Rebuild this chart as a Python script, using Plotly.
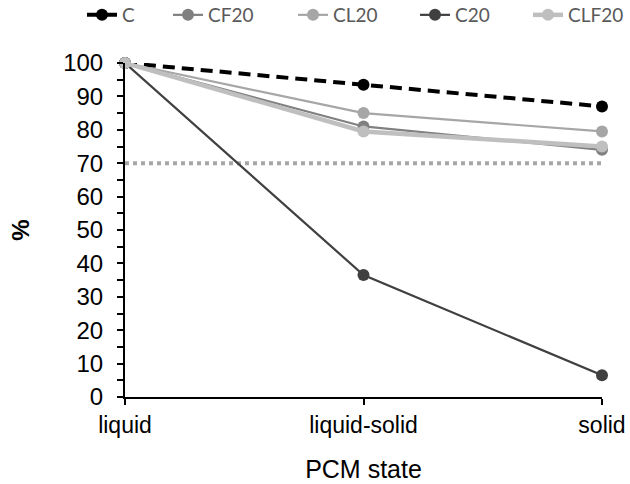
import plotly.graph_objects as go

states = ["liquid", "liquid-solid", "solid"]
series_names = ["C", "CF20", "CL20", "C20", "CLF20"]
C = [100, 93.5, 87]
CF20 = [100, 81, 74]
CL20 = [100, 85, 79.5]
C20 = [100, 36.5, 6.5]
CLF20 = [100, 79.5, 75]
threshold = 70

values = [C, CF20, CL20, C20, CLF20]
colors = ["#000000", "#808080", "#a6a6a6", "#404040", "#bfbfbf"]
widths = [4, 2.2, 2.2, 2.2, 4.5]
dashes = ["12px,7px", "solid", "solid", "solid", "solid"]

L, R, T, B = 125, 28, 63, 87
W, H = 630, 484
pw = W - L - R
ph = H - T - B
# legend left edges (px) for each item
legend_px = [82, 168, 293, 415, 528]
legend_ypx = 15

xpos = list(range(len(states)))

fig = go.Figure()
fig.add_trace(go.Scatter(x=[xpos[0], xpos[-1]], y=[threshold, threshold], mode="lines",
                         line=dict(color="#a6a6a6", width=4, dash="4px,4px"),
                         showlegend=False, hoverinfo="skip"))
layout_legends = {}
for i, (name, v, c, w, d) in enumerate(zip(series_names, values, colors, widths, dashes)):
    lg = "legend" if i == 0 else f"legend{i+1}"
    fig.add_trace(go.Scatter(x=xpos, y=v, name=name, mode="lines+markers",
                             line=dict(color=c, width=w, dash=d),
                             marker=dict(color=c, size=12), legend=lg, showlegend=True))
    layout_legends[lg] = dict(
        x=(legend_px[i] - L) / pw, xanchor="left",
        y=1 + (T - legend_ypx) / ph, yanchor="middle",
        orientation="h", bgcolor="rgba(0,0,0,0)",
        font=dict(size=19, color="#595959", family="Lato, Open Sans, sans-serif"),
    )

fig.update_layout(
    width=W, height=H,
    margin=dict(l=L, r=R, t=T, b=B, autoexpand=False),
    plot_bgcolor="white", paper_bgcolor="white",
    font=dict(family="Liberation Sans, Arial, sans-serif", color="black"),
    xaxis=dict(range=[0, 2], tickvals=xpos, ticktext=states, showgrid=False, zeroline=False,
               showline=True, linecolor="black", linewidth=2, ticks="outside", ticklen=6,
               tickwidth=2, tickcolor="black", tickfont=dict(size=23), ticklabelstandoff=0,
               title=dict(text="PCM state", font=dict(size=25), standoff=24)),
    yaxis=dict(range=[0, 100], dtick=10, showgrid=False, zeroline=False,
               showline=True, linecolor="black", linewidth=2, ticks="outside", ticklen=6,
               tickwidth=2, tickcolor="black", tickfont=dict(size=24), ticklabelstandoff=9,
               minor=dict(dtick=5, ticks="outside", ticklen=6, tickwidth=2, tickcolor="black"),
               title=dict(text="<b>%</b>", font=dict(size=24), standoff=27)),
    **layout_legends,
)
fig.update_traces(cliponaxis=False)

fig.write_html("out.html", config={"displayModeBar": False},
               post_script="document.body.style.margin='0';document.body.style.overflow='hidden';")
